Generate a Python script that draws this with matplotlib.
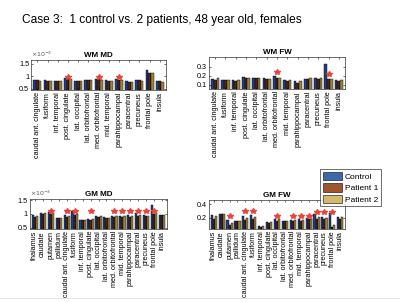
import numpy as np
import matplotlib
matplotlib.use("Agg")
import matplotlib.pyplot as plt
from matplotlib.patches import Patch
from matplotlib.lines import Line2D

plt.rcParams['font.family'] = ['Liberation Sans', 'DejaVu Sans']

wm_regions = ['caudal ant. cingulate', 'fusiform', 'inf. temporal', 'post. cingulate',
              'lat. occipital', 'lat. orbitofrontal', 'med. orbitofrontal', 'mid. temporal',
              'parahippocampal', 'paracentral', 'precuneus', 'frontal pole', 'insula']
gm_regions = ['thalamus', 'caudate', 'putamen', 'pallidum'] + wm_regions

groups = ['Control', 'Patient 1', 'Patient 2']

# WM MD (x1e-3)
wm_md_control = [0.86, 0.84, 0.83, 0.93, 0.82, 0.86, 0.90, 0.84, 0.88, 0.80, 0.85, 1.25, 0.82]
wm_md_p1 = [0.84, 0.83, 0.82, 0.90, 0.81, 0.85, 0.88, 0.83, 0.85, 0.79, 0.84, 1.15, 0.80]
wm_md_p2 = [0.83, 0.82, 0.81, 0.88, 0.80, 0.84, 0.87, 0.82, 0.84, 0.78, 0.83, 1.12, 0.79]
wm_md_stars = [3, 6, 8]
wm_md_star_y = [0.97, 0.97, 0.97]

# WM FW
wm_fw_control = [0.16, 0.15, 0.15, 0.19, 0.17, 0.17, 0.20, 0.15, 0.14, 0.16, 0.17, 0.33, 0.15]
wm_fw_p1 = [0.15, 0.15, 0.14, 0.18, 0.17, 0.16, 0.17, 0.14, 0.12, 0.16, 0.16, 0.16, 0.14]
wm_fw_p2 = [0.17, 0.15, 0.15, 0.18, 0.17, 0.16, 0.17, 0.15, 0.14, 0.17, 0.17, 0.16, 0.15]
wm_fw_stars = [6, 11]
wm_fw_star_y = [0.24, 0.22]

# GM MD (x1e-3)
gm_md_control = [0.98, 1.03, 1.06, 0.86, 0.97, 1.10, 0.79, 0.81, 0.93, 0.88, 0.93, 0.93, 0.95, 1.02, 0.95, 1.32, 0.97]
gm_md_p1 = [0.88, 1.00, 1.00, 0.84, 0.88, 0.97, 0.77, 0.78, 0.90, 0.86, 0.90, 0.90, 0.90, 0.93, 0.92, 1.00, 0.95]
gm_md_p2 = [0.93, 1.02, 1.02, 0.86, 0.92, 1.00, 0.78, 0.80, 0.92, 0.87, 0.92, 0.92, 0.93, 0.96, 0.93, 1.02, 0.97]
gm_md_stars = [2, 4, 5, 7, 10, 11, 12, 13, 14, 15]
gm_md_star_y = [1.1] * 10

# GM FW
gm_fw_control = [0.24, 0.26, 0.17, 0.16, 0.22, 0.24, 0.08, 0.14, 0.19, 0.16, 0.17, 0.18, 0.20, 0.25, 0.21, 0.27, 0.21]
gm_fw_p1 = [0.18, 0.25, 0.09, 0.16, 0.17, 0.18, 0.07, 0.13, 0.16, 0.15, 0.15, 0.16, 0.18, 0.19, 0.18, 0.07, 0.19]
gm_fw_p2 = [0.22, 0.25, 0.12, 0.16, 0.20, 0.21, 0.08, 0.14, 0.18, 0.16, 0.17, 0.17, 0.19, 0.21, 0.20, 0.10, 0.21]
gm_fw_stars = [2, 4, 5, 8, 10, 11, 12, 13, 14, 15]
gm_fw_star_y = [0.22, 0.30, 0.30, 0.23, 0.22, 0.22, 0.22, 0.28, 0.28, 0.28]

legend_colors = ['#3d68a9', '#a0552c', '#d8b86e']
bar_colors = ['#243f80', '#4a2812', '#9a8240']


def draw_panel(rect, title, regions, series, stars, star_y, ylim, yticks, yticklabels, sci=False):
    ax = fig.add_axes(rect)
    x = np.arange(len(regions))
    w = 0.26
    for i, vals in enumerate(series):
        ax.bar(x + (i - 1) * w, vals, w, color=bar_colors[i], edgecolor='black', linewidth=0.3)
    ax.plot(x[stars], star_y, linestyle='none', marker='*', color='#e8453c', markersize=4.2)
    ax.set_xlim(-0.6, len(regions) - 0.4)
    ax.set_ylim(*ylim)
    ax.set_yticks(yticks)
    ax.set_yticklabels(yticklabels, fontsize=5.2)
    ax.set_xticks(x)
    ax.set_xticklabels(regions, rotation=90, fontsize=5.2)
    ax.tick_params(direction='in', length=1.5, width=0.4, pad=1.5, top=True, right=True)
    for s in ax.spines.values():
        s.set_linewidth(0.5)
        s.set_color('#333333')
    ax.set_title(title, fontsize=5.8, fontweight='bold', pad=2)
    if sci:
        ax.text(0.0, 1.03, r'$\times10^{-3}$', transform=ax.transAxes, fontsize=4.5,
                color='#555555', ha='left', va='bottom')
    return ax


fig = plt.figure(figsize=(4.0, 3.02), dpi=100)

fig.text(0.055, 0.935, 'Case 3:  1 control vs. 2 patients, 48 year old, females',
         fontsize=8.6, ha='left', va='center')

draw_panel([0.078, 0.702, 0.337, 0.099], 'WM MD', wm_regions,
           [wm_md_control, wm_md_p1, wm_md_p2], wm_md_stars, wm_md_star_y,
           (0.45, 1.65), [0.5, 1, 1.5], ['0.5', '1', '1.5'], sci=True)
draw_panel([0.5225, 0.705, 0.34, 0.106], 'WM FW', wm_regions,
           [wm_fw_control, wm_fw_p1, wm_fw_p2], wm_fw_stars, wm_fw_star_y,
           (0.05, 0.41), [0.1, 0.2, 0.3], ['0.1', '0.2', '0.3'])
draw_panel([0.075, 0.242, 0.3425, 0.099], 'GM MD', gm_regions,
           [gm_md_control, gm_md_p1, gm_md_p2], gm_md_stars, gm_md_star_y,
           (0.45, 1.55), [0.5, 1, 1.5], ['0.5', '1', '1.5'], sci=True)
draw_panel([0.5225, 0.242, 0.34, 0.096], 'GM FW', gm_regions,
           [gm_fw_control, gm_fw_p1, gm_fw_p2], gm_fw_stars, gm_fw_star_y,
           (0.04, 0.46), [0.2, 0.4], ['0.2', '0.4'])

handles = [Patch(facecolor=c, edgecolor='black', linewidth=0.4) for c in legend_colors]
leg = fig.legend(handles, groups, loc='upper left', bbox_to_anchor=(0.8, 0.44),
                 fontsize=6, frameon=True, fancybox=False, edgecolor='black',
                 handlelength=2.3, handleheight=1.2, borderpad=0.3, labelspacing=0.3,
                 handletextpad=0.4, borderaxespad=0)
leg.get_frame().set_linewidth(0.5)

fig.add_artist(Line2D([0, 1], [0.012, 0.012], color='#e6e6e6', linewidth=0.8))

fig.savefig('out.png', dpi=100)
